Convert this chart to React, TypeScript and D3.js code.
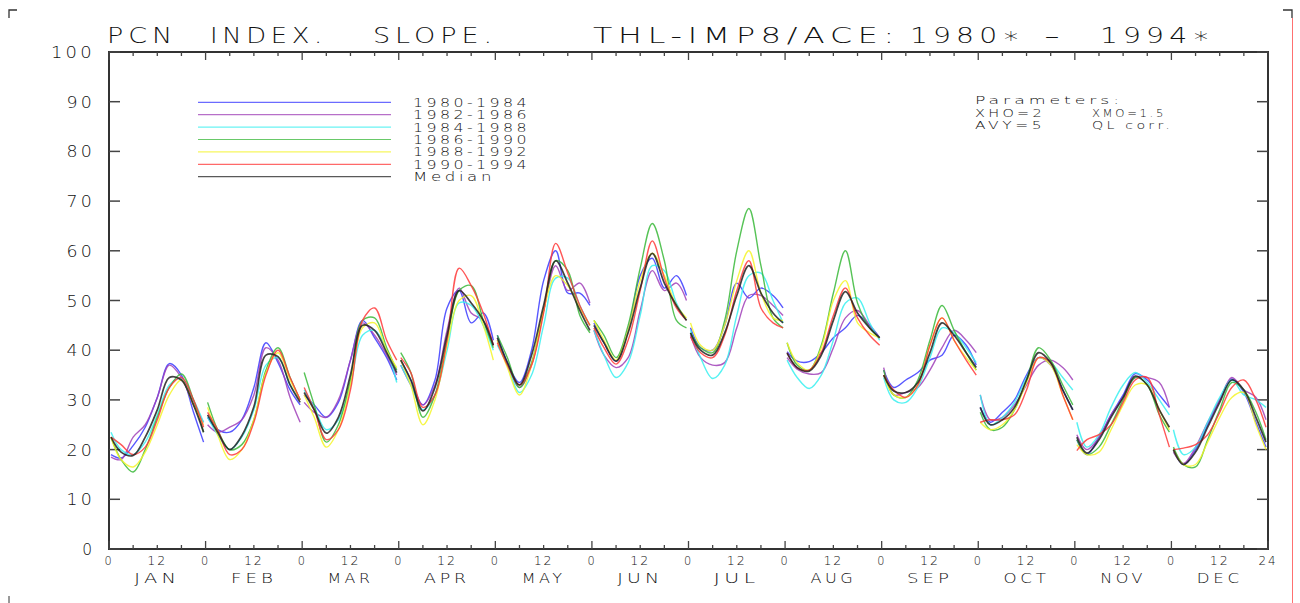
import React from 'react';
import * as d3 from 'd3';

// hour of day at which each monthly value is read
const HOURS = [0.5, 3, 6, 9, 12, 15, 18, 21, 23.5];
const MONTHS = ['JAN', 'FEB', 'MAR', 'APR', 'MAY', 'JUN', 'JUL', 'AUG', 'SEP', 'OCT', 'NOV', 'DEC'];
const Y_TICKS = [0, 10, 20, 30, 40, 50, 60, 70, 80, 90, 100];

const P1980_1984 = [
  [19, 18.3, 20.8, 24.5, 30.5, 37.3, 35, 27.5, 21.5],
  [26.5, 24, 23.5, 26, 32.5, 41.5, 37.5, 32, 29],
  [31, 29, 26.5, 29.5, 38, 46, 42.5, 38.5, 34],
  [38, 34, 29, 34, 48.5, 52, 45.5, 47.5, 42],
  [43, 37.5, 33.5, 40, 54, 60, 51.5, 51.5, 49],
  [45.5, 41.5, 37.8, 44, 55, 58.5, 52.5, 55, 51],
  [44.5, 40.5, 40, 45, 53.5, 50.5, 52.5, 51, 48.5],
  [39.7, 37.8, 37.7, 39.5, 42.5, 44.5, 47, 45, 42.5],
  [36, 32.5, 34, 35.5, 38, 39, 43, 41, 37],
  [28.5, 25.5, 27.5, 30, 35, 38.5, 37, 32, 28],
  [22, 19, 22.5, 27, 31, 35.3, 34, 31, 28.5],
  [20, 17, 20, 25, 30, 34.2, 31.5, 25.5, 20.5],
];

const P1982_1986 = [
  [18.5, 18, 22.5, 25, 30.5, 37, 34.5, 29, 25.5],
  [25, 23.5, 24.5, 26, 31, 40.5, 38, 30.5, 25.5],
  [29.5, 27.5, 26.5, 30, 38, 45.5, 43, 39, 35],
  [37, 33, 29, 33, 44, 52.5, 47.5, 46, 41],
  [42, 37, 32.5, 37, 48, 57, 52, 53.5, 49.5],
  [44, 39, 36.5, 38.5, 48, 56, 52, 53.5, 50],
  [43, 38.5, 37, 37.5, 44.5, 51, 51, 49, 47],
  [38.5, 36.2, 35.2, 35.5, 40.5, 46.5, 48, 45, 42.5],
  [36.5, 31, 31.5, 32.5, 36, 40.5, 44, 42, 39.5],
  [31, 26, 26.5, 29, 33, 37, 38, 36.5, 34],
  [23, 20, 22.5, 27, 30.5, 34.5, 34.5, 33.5, 28.5],
  [19.5, 17.2, 20.5, 25.5, 30, 34.5, 32, 30.5, 26],
];

const P1984_1988 = [
  [23.5, 20, 19, 21.5, 27, 33, 34.3, 30, 25.5],
  [26.5, 23, 20, 22.5, 28, 37, 38.5, 33, 30],
  [32, 28.5, 24, 26, 33, 43, 44, 40, 33.5],
  [37, 33, 28, 31, 40, 49.5, 49, 45, 40],
  [41, 37, 31.5, 35, 45, 54.5, 54.5, 49, 45],
  [44, 39, 34.5, 37.5, 47, 57, 56, 49.5, 46],
  [44, 38.5, 34.3, 37, 47, 55, 55.5, 50, 45.5],
  [38, 34.5, 32.3, 35, 42, 49.5, 50.5, 45.5, 42],
  [34.5, 30, 29.5, 32.5, 38.5, 44.5, 43.5, 40.5, 37.5],
  [31, 25, 26.5, 29.5, 34.5, 38.5, 37.5, 34.5, 32],
  [25.5, 20.5, 23, 28.5, 33, 35.5, 33.5, 30, 27],
  [24, 19, 20.5, 25.5, 30.5, 34, 31, 30, 28.5],
];

const P1986_1990 = [
  [22.5, 18, 15.5, 20, 26.5, 32.5, 35.2, 30, 23.5],
  [29.5, 24, 20, 21, 26, 36, 40.5, 34.5, 30],
  [35.5, 29, 21.5, 25, 34, 46, 46.5, 40.5, 36],
  [39.5, 35.5, 26.5, 31, 42, 52, 53, 46, 40.5],
  [43, 38.5, 32.5, 37.5, 48, 58, 56, 47, 43.5],
  [46, 43, 38.5, 45, 56.5, 65.5, 58, 46, 44.5],
  [43.5, 40.5, 39.5, 46, 60, 68.5, 57, 46.5, 44.5],
  [41.5, 37, 36, 41, 51.5, 60, 49.5, 44.5, 42.5],
  [36, 31, 30.5, 34, 42, 49, 44, 39.5, 36],
  [27.5, 24, 24.5, 28, 34, 40.5, 38, 33, 29],
  [22, 19, 20.5, 25, 30, 34.5, 33, 27, 23.5],
  [20.5, 17, 16.5, 22, 28, 33.5, 32, 27.5, 22],
];

const P1988_1992 = [
  [22.5, 18, 16.5, 19.5, 25, 31, 34, 29, 25],
  [28.5, 23, 18, 20, 26, 35.5, 39.5, 34, 30],
  [31, 26.5, 20.5, 24, 33, 44.5, 45.5, 40, 36.5],
  [38, 33, 25, 30, 41, 50, 51, 45, 38],
  [42, 36.5, 31, 37, 48, 55, 53, 48.5, 45],
  [46, 42, 38, 44, 54, 59.5, 55, 49, 46.5],
  [45.5, 41, 40, 45, 54, 60, 51.5, 46.5, 46],
  [41.5, 37.5, 36, 40.5, 50, 54, 45.5, 43.5, 42.5],
  [35, 31, 30.5, 33, 41, 46.5, 42, 38.5, 36],
  [25.5, 24, 25, 28, 33.5, 38.5, 37, 31, 26],
  [21, 19, 19.5, 24, 29, 33, 33, 28, 24],
  [20, 17, 17, 21.5, 26.5, 30.5, 31.5, 25, 20],
];

const P1990_1994 = [
  [22.5, 21, 19, 20.5, 26, 32.5, 34.5, 30, 24.5],
  [27.5, 24, 19, 20, 25.5, 35, 40, 34.5, 30],
  [32.5, 28, 22, 24, 32, 46, 48.5, 42, 38],
  [38.5, 35.5, 28.5, 31, 42, 56.5, 53, 47.5, 41],
  [41.5, 37, 33, 37, 47.5, 61.5, 55.5, 49, 45],
  [44.5, 40.5, 37.2, 42, 52, 62, 54.5, 48.5, 46],
  [42.7, 39.5, 38.5, 43, 52, 58, 48.5, 45.5, 44.5],
  [39.5, 36.5, 36, 39.5, 47, 52.5, 46.5, 43, 41],
  [35, 32, 30.5, 33, 41, 46.5, 42, 38, 35],
  [25.5, 26, 26, 27, 32, 38.5, 37.5, 31, 26],
  [19.8, 22, 23, 25, 29.5, 34, 34.5, 27, 20.5],
  [20, 20.3, 21, 23, 27.5, 32.5, 34, 30, 24.5],
];

const MEDIAN = [
  [22.5, 19.5, 18.8, 22.5, 28, 34.5, 34, 29, 23.5],
  [27, 23.5, 20, 22.8, 28.6, 39, 38.7, 33, 29.5],
  [31.5, 28, 23.3, 26.5, 35, 45, 44, 39.5, 35.5],
  [38, 34, 27.8, 32.5, 43, 52, 49.5, 46, 41],
  [42.5, 37.5, 33, 39, 49, 58, 53.5, 48, 44],
  [45, 41.5, 37.8, 43.5, 52.5, 59.5, 53.5, 49, 46],
  [43.5, 40, 39, 43.5, 51, 57, 51.5, 47.5, 45.5],
  [39.4, 36.5, 35.8, 39, 46, 51.8, 47.5, 44.5, 42.5],
  [35, 31.8, 31.5, 33.5, 39.5, 45.5, 43, 39.5, 36.5],
  [28.5, 25, 26, 28.5, 34, 39.5, 37.5, 32, 28],
  [22.5, 19.3, 22, 26.5, 30.5, 34.8, 33, 28, 24.5],
  [20, 17, 19.5, 24.5, 29.5, 34, 32, 26.5, 21.5],
];

const SERIES = [
  { name: '1980-1984', color: '#3a3aff', data: P1980_1984 },
  { name: '1982-1986', color: '#a040b8', data: P1982_1986 },
  { name: '1984-1988', color: '#38f0f0', data: P1984_1988 },
  { name: '1986-1990', color: '#38b838', data: P1986_1990 },
  { name: '1988-1992', color: '#f4f428', data: P1988_1992 },
  { name: '1990-1994', color: '#ff3838', data: P1990_1994 },
  { name: 'Median', color: '#222222', data: MEDIAN },
];

const FONT = '"DejaVu Sans", sans-serif';
const INK = '#111';

const L = 109, R = 1268, T = 52, B = 549;

// wide, thin plotter-style lettering: glyphs are stretched to fill the given width
const Txt = ({ x, y, w, size, children, anchor = 'start', ls = 2 }: any) => (
  <text x={x} y={y} fontSize={size} fontFamily={FONT} fontWeight={200} fill={INK} textAnchor={anchor}
    letterSpacing={ls} textLength={w} lengthAdjust="spacingAndGlyphs">{children}</text>
);

export default function App() {
  const x = d3.scaleLinear().domain([0, 288]).range([L, R]);
  const y = d3.scaleLinear().domain([0, 100]).range([B, T]);

  const lineFor = (m: number) => d3.line<number>()
    .x((_, i) => x(m * 24 + HOURS[i]))
    .y(d => y(d))
    .curve(d3.curveCatmullRom.alpha(0.5));

  const xTicks = d3.range(0, 289, 6);
  const legendY = d3.scaleLinear().domain([0, 6]).range([102.3, 176.7]);

  return (
    <svg width={1300} height={603} style={{ position: 'absolute', left: 0, top: 0, background: '#fff' }}>
      {/* page crop marks */}
      <path d="M9,18 V10 H17" fill="none" stroke="#333" strokeWidth={1.3} />
      <path d="M1283,10 H1292 V18" fill="none" stroke="#333" strokeWidth={1.3} />
      <line x1={1292.5} x2={1292.5} y1={18} y2={603} stroke="#ff7070" strokeWidth={1} />
      <line x1={9} x2={9} y1={596} y2={603} stroke="#333" strokeWidth={1} />

      {/* title */}
      <g>
        <Txt x={107} y={43} w={70} size={22} ls={4}>PCN</Txt>
        <Txt x={210} y={43} w={117} size={22} ls={4}>INDEX.</Txt>
        <Txt x={373} y={43} w={124} size={22} ls={4}>SLOPE.</Txt>
        <Txt x={593} y={43} w={307} size={22} ls={4}>THL-IMP8/ACE:</Txt>
        <Txt x={910} y={43} w={115} size={22} ls={4}>1980∗</Txt>
        <Txt x={1044} y={43} w={16} size={22} ls={0}>-</Txt>
        <Txt x={1100} y={43} w={115} size={22} ls={4}>1994∗</Txt>
      </g>

      {/* frame */}
      <rect x={L} y={T} width={R - L} height={B - T} fill="none" stroke="#333" strokeWidth={2} />

      {/* y ticks and labels */}
      {Y_TICKS.map(v => (
        <g key={'y' + v}>
          <line x1={L} x2={L + 11} y1={y(v)} y2={y(v)} stroke="#444" strokeWidth={1.5} />
          <line x1={R - 11} x2={R} y1={y(v)} y2={y(v)} stroke="#444" strokeWidth={1.5} />
          <Txt x={95} y={y(v) + 6} w={String(v).length * 15.7 - 3} size={16.5} anchor="end" ls={3}>{String(v)}</Txt>
        </g>
      ))}

      {/* x ticks and labels */}
      {xTicks.map(h => {
        const major = h % 24 === 0;
        const len = major ? 8 : 4;
        return (
          <g key={'x' + h}>
            <line x1={x(h)} x2={x(h)} y1={B} y2={B - len} stroke="#444" strokeWidth={1.3} />
            <line x1={x(h)} x2={x(h)} y1={T} y2={T + len} stroke="#444" strokeWidth={1.3} />
            {h % 12 === 0 && (
              <Txt x={x(h)} y={565} size={12.5} anchor="middle" ls={2}
                w={h % 24 === 0 ? (h === 288 ? 19 : 9) : 20}>
                {h === 288 ? '24' : h % 24 === 0 ? '0' : '12'}
              </Txt>
            )}
          </g>
        );
      })}
      {MONTHS.map((m, i) => (
        <Txt key={m} x={x(i * 24 + 12)} y={583} size={13.5} anchor="middle" ls={3}
          w={m === 'MAY' ? 44 : 46}>{m}</Txt>
      ))}

      {/* legend */}
      {SERIES.map((s, i) => (
        <g key={'lg' + s.name}>
          <line x1={198} x2={391} y1={legendY(i)} y2={legendY(i)} stroke={s.color} strokeWidth={1.2} opacity={0.75} />
          <Txt x={413} y={legendY(i) + 4.5} size={11.5} ls={2.5} w={s.name === 'Median' ? 82 : 117}>{s.name}</Txt>
        </g>
      ))}

      {/* parameters */}
      <Txt x={975} y={104} size={11} ls={2.5} w={148}>Parameters:</Txt>
      <Txt x={975} y={116.5} size={11} ls={2.5} w={70}>XHO=2</Txt>
      <Txt x={1092} y={116.5} size={11} ls={2.5} w={74}>XMO=1.5</Txt>
      <Txt x={975} y={129} size={11} ls={2.5} w={70}>AVY=5</Txt>
      <Txt x={1092} y={129} size={11} ls={2.5} w={81}>QL corr.</Txt>

      {/* curves */}
      {SERIES.map(s => (
        <g key={'s' + s.name} fill="none" stroke={s.color}
          strokeWidth={s.name === 'Median' ? 1.7 : 1.4} strokeOpacity={0.85}>
          {s.data.map((vals, m) => (
            <path key={m} d={lineFor(m)(vals) || ''} />
          ))}
        </g>
      ))}
    </svg>
  );
}
